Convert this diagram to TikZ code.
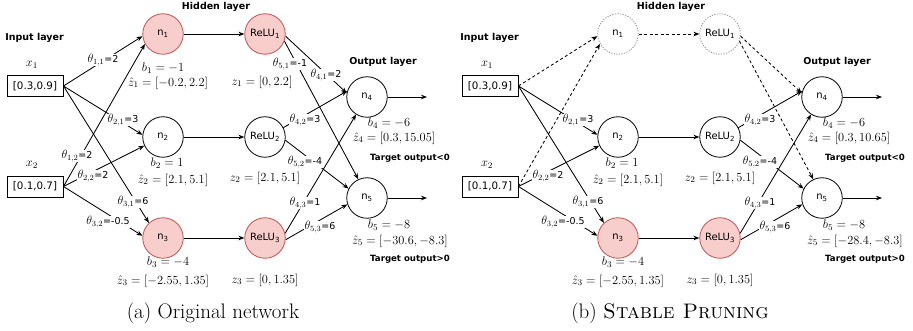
\RequirePackage{fix-cm}
\documentclass[tikz,border=0pt]{standalone}
\usepackage{fontspec}
\newfontfamily\dvs{DejaVu Sans}
\usetikzlibrary{arrows.meta}
\pgfdeclarelayer{bg}
\pgfsetlayers{bg,main}
\definecolor{pinkf}{HTML}{F8CECC}
\definecolor{pinkd}{HTML}{B85450}
\definecolor{dotg}{HTML}{8C8C8C}
\newcommand\mysans[1]{{\dvs\fontsize{9.5}{11}\selectfont #1}}
\newcommand\myth[2]{$\theta_{#1}$\mysans{=#2}}
\tikzset{
 hdr/.style={font=\dvs\bfseries\fontsize{9.5}{11}\selectfont, inner sep=0pt},
 tgt/.style={font=\dvs\bfseries\fontsize{8.6}{10}\selectfont, inner sep=0pt},
 mlab/.style={font=\fontsize{12.4}{14.5}\selectfont, inner sep=0pt},
 tlab/.style={font=\fontsize{12}{14}\selectfont, fill=white, inner sep=0.6pt},
 inbox/.style={draw, line width=0.9pt, minimum width=56pt, minimum height=21pt, inner sep=0pt, font=\dvs\fontsize{10.3}{12}\selectfont},
 neur/.style={circle, draw, line width=0.8pt, minimum size=40.5pt, inner sep=0pt, font=\dvs\fontsize{10}{12}\selectfont},
 act/.style={fill=pinkf, draw=pinkd},
 gone/.style={draw=dotg, dash pattern=on 1.2pt off 1.4pt},
 arr/.style={line width=0.85pt, -{Stealth[length=6pt,width=4.6pt]}},
 dsh/.style={dash pattern=on 3pt off 2.5pt},
 capt/.style={font=\fontsize{21}{25}\selectfont, inner sep=0pt},
}
\begin{document}
\begin{tikzpicture}[x=1pt,y=-1pt]
\useasboundingbox (0,0) rectangle (913,331);
% ================= panel (a) =================
\begin{scope}[name prefix=a-]
\node[hdr] (inl) at (34.5,38) {Input layer};
\node[hdr] (hid) at (216,7) {Hidden layer};
\node[hdr] (outl) at (383,62) {Output layer};
\node[mlab] (x1l) at (32,65) {$x_1$};
\node[inbox] (x1) at (35,86) {[0.3,0.9]};
\node[mlab] (x2l) at (32,165) {$x_2$};
\node[inbox] (x2) at (35,186.5) {[0.1,0.7]};
\node[neur,act] (n1) at (163,34) {n\textsubscript{1}};
\node[neur] (n2) at (163,137) {n\textsubscript{2}};
\node[neur,act] (n3) at (163,238) {n\textsubscript{3}};
\node[neur,act] (r1) at (265,34) {ReLU\textsubscript{1}};
\node[neur] (r2) at (265,137) {ReLU\textsubscript{2}};
\node[neur,act] (r3) at (265,238) {ReLU\textsubscript{3}};
\node[neur] (n4) at (367,97) {n\textsubscript{4}};
\node[neur] (n5) at (367,198) {n\textsubscript{5}};
\coordinate (o4) at (427,97);
\coordinate (o5) at (427,198);
\node[mlab] (b1) at (163,68) {$b_1 = -1$};
\node[mlab] (z1h) at (168,83) {$\hat{z}_1 = [-0.2, 2.2]$};
\node[mlab] (b2) at (167,163) {$b_2 = 1$};
\node[mlab] (z2h) at (173,180) {$\hat{z}_2 = [2.1, 5.1]$};
\node[mlab] (b3) at (168,262) {$b_3 = -4$};
\node[mlab] (z3h) at (163,281) {$\hat{z}_3 = [-2.55, 1.35]$};
\node[mlab] (z1) at (262,82) {$z_1 = [0, 2.2]$};
\node[mlab] (z2) at (265,178) {$z_2 = [2.1, 5.1]$};
\node[mlab] (z3) at (265,280) {$z_3 = [0, 1.35]$};
\node[mlab] (b4) at (389,123) {$b_4 = -6$};
\node[mlab] (z4h) at (394,138) {$\hat{z}_4 = [0.3, 15.05]$};
\node[tgt] (t4) at (410,158) {Target output<0};
\node[mlab] (b5) at (389,225) {$b_5 = -8$};
\node[mlab] (z5h) at (400,241) {$\hat{z}_5 = [-30.6, -8.3]$};
\node[tgt] (t5) at (410,259) {Target output>0};
\node[tlab] (l11) at (103,60) {\myth{1,1}{2}};
\node[tlab] (l21) at (123,120) {\myth{2,1}{3}};
\node[tlab] (l12) at (77,156) {\myth{1,2}{2}};
\node[tlab] (l22) at (93,176) {\myth{2,2}{2}};
\node[tlab] (l31) at (133,202) {\myth{3,1}{6}};
\node[tlab] (l32) at (108,222) {\myth{3,2}{-0.5}};
\node[tlab] (l51) at (290,64) {\myth{5,1}{-1}};
\node[tlab] (l41) at (326,75) {\myth{4,1}{2}};
\node[tlab] (l42) at (305,120) {\myth{4,2}{3}};
\node[tlab] (l52) at (305,162) {\myth{5,2}{-4}};
\node[tlab] (l43) at (305,203) {\myth{4,3}{1}};
\node[tlab] (l53) at (320,227) {\myth{5,3}{6}};
\begin{pgfonlayer}{bg}
\draw[arr] (x1.east) -- (n1.186);
\draw[arr] (x1.east) -- (n2.174);
\draw[arr] (x1.east) -- (n3.133);
\draw[arr] (x2.east) -- (n1.209);
\draw[arr] (x2.east) -- (n2.205);
\draw[arr] (x2.east) -- (n3.174);
\draw[arr] (n1.east) -- (r1.west);
\draw[arr] (n2.east) -- (r2.west);
\draw[arr] (n3.east) -- (r3.west);
\draw[arr] (r1.-6) -- (n4.169);
\draw[arr] (r1.-20) -- (n5.115);
\draw[arr] (r2.27) -- (n4.163);
\draw[arr] (r2.-9) -- (n5.153);
\draw[arr] (r3.13) -- (n4.238);
\draw[arr] (r3.-5) -- (n5.198);
\draw[arr] (n4.east) -- (o4);
\draw[arr] (n5.east) -- (o5);
\end{pgfonlayer}
\end{scope}
\node[capt] (capa) at (213,313) {(a) Original network};
% ================= panel (b) =================
\begin{scope}[shift={(455,0)}, name prefix=b-]
\node[hdr] (inl) at (34.5,38) {Input layer};
\node[hdr] (hid) at (216,7) {Hidden layer};
\node[hdr] (outl) at (382,62) {Output layer};
\node[mlab] (x1l) at (32,65) {$x_1$};
\node[inbox] (x1) at (35,86) {[0.3,0.9]};
\node[mlab] (x2l) at (32,165) {$x_2$};
\node[inbox] (x2) at (35,186.5) {[0.1,0.7]};
\node[neur,gone] (n1) at (163,34) {n\textsubscript{1}};
\node[neur] (n2) at (163,137) {n\textsubscript{2}};
\node[neur,act] (n3) at (163,238) {n\textsubscript{3}};
\node[neur,gone] (r1) at (265,34) {ReLU\textsubscript{1}};
\node[neur] (r2) at (265,137) {ReLU\textsubscript{2}};
\node[neur,act] (r3) at (265,238) {ReLU\textsubscript{3}};
\node[neur] (n4) at (367,97) {n\textsubscript{4}};
\node[neur] (n5) at (367,198) {n\textsubscript{5}};
\coordinate (o4) at (427,97);
\coordinate (o5) at (427,198);
\node[mlab] (b2) at (167,163) {$b_2 = 1$};
\node[mlab] (z2h) at (173,180) {$\hat{z}_2 = [2.1, 5.1]$};
\node[mlab] (b3) at (168,262) {$b_3 = -4$};
\node[mlab] (z3h) at (163,281) {$\hat{z}_3 = [-2.55, 1.35]$};
\node[mlab] (z2) at (265,178) {$z_2 = [2.1, 5.1]$};
\node[mlab] (z3) at (265,280) {$z_3 = [0, 1.35]$};
\node[mlab] (b4) at (389,123) {$b_4 = -6$};
\node[mlab] (z4h) at (394,138) {$\hat{z}_4 = [0.3, 10.65]$};
\node[tgt] (t4) at (410,158) {Target output<0};
\node[mlab] (b5) at (389,225) {$b_5 = -8$};
\node[mlab] (z5h) at (400,241) {$\hat{z}_5 = [-28.4, -8.3]$};
\node[tgt] (t5) at (410,259) {Target output>0};
\node[tlab] (l21) at (123,120) {\myth{2,1}{3}};
\node[tlab] (l22) at (93,176) {\myth{2,2}{2}};
\node[tlab] (l31) at (133,202) {\myth{3,1}{6}};
\node[tlab] (l32) at (108,222) {\myth{3,2}{-0.5}};
\node[tlab] (l42) at (305,120) {\myth{4,2}{3}};
\node[tlab] (l52) at (305,162) {\myth{5,2}{-4}};
\node[tlab] (l43) at (305,203) {\myth{4,3}{1}};
\node[tlab] (l53) at (320,227) {\myth{5,3}{6}};
\begin{pgfonlayer}{bg}
\draw[arr,dsh] (x1.east) -- (n1.186);
\draw[arr] (x1.east) -- (n2.174);
\draw[arr] (x1.east) -- (n3.133);
\draw[arr,dsh] (x2.east) -- (n1.209);
\draw[arr] (x2.east) -- (n2.205);
\draw[arr] (x2.east) -- (n3.174);
\draw[arr,dsh] (n1.east) -- (r1.west);
\draw[arr] (n2.east) -- (r2.west);
\draw[arr] (n3.east) -- (r3.west);
\draw[arr,dsh] (r1.-6) -- (n4.169);
\draw[arr,dsh] (r1.-20) -- (n5.115);
\draw[arr] (r2.27) -- (n4.163);
\draw[arr] (r2.-9) -- (n5.153);
\draw[arr] (r3.13) -- (n4.238);
\draw[arr] (r3.-5) -- (n5.198);
\draw[arr] (n4.east) -- (o4);
\draw[arr] (n5.east) -- (o5);
\end{pgfonlayer}
\end{scope}
\node[capt] (capb) at (670,313) {(b) \textsc{Stable Pruning}};
\end{tikzpicture}
\end{document}
